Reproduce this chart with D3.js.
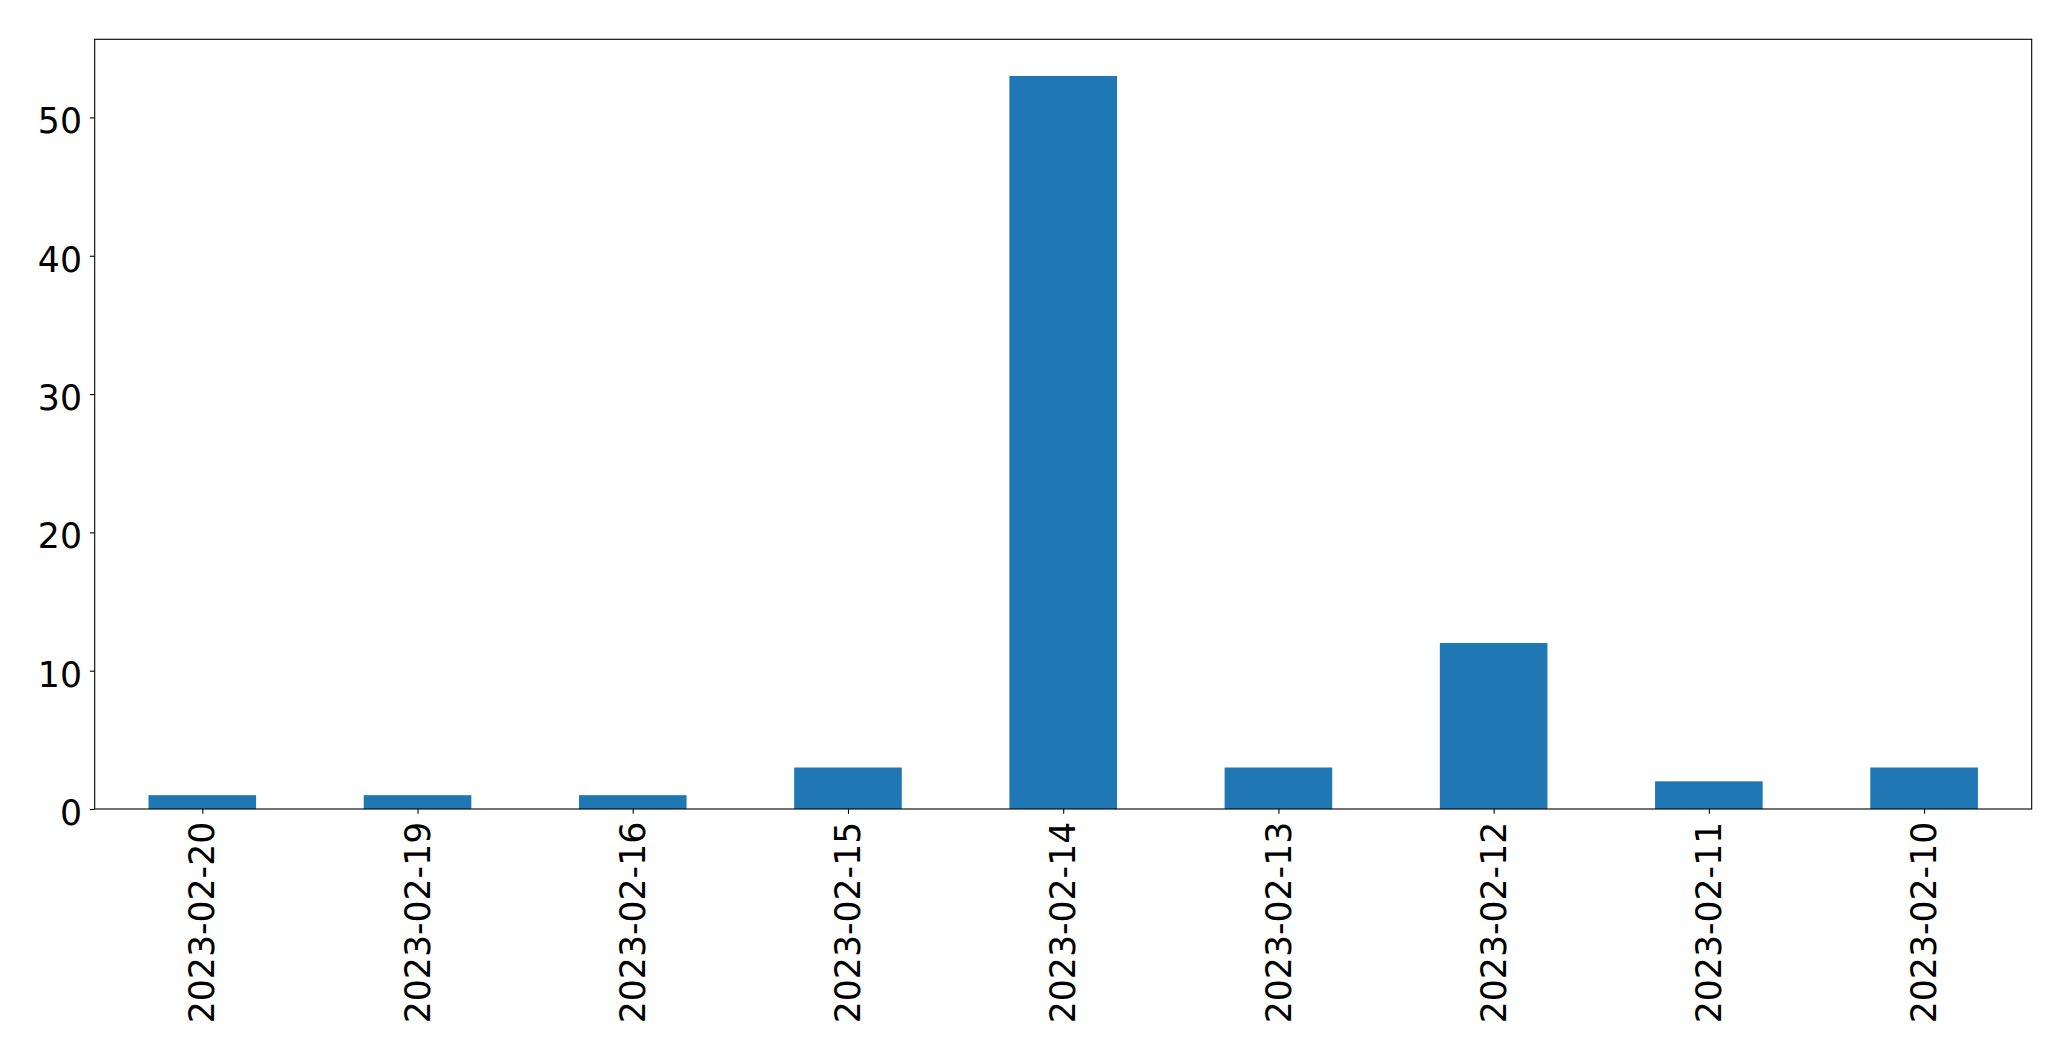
<!DOCTYPE html>
<html>
<head>
<meta charset="utf-8">
<script src="https://cdn.jsdelivr.net/npm/d3@7"></script>
<style>
  html, body { margin: 0; padding: 0; background: #fff; }
  svg { display: block; }
</style>
</head>
<body>
<svg id="chart" width="2071" height="1061"></svg>
<script>
const categories = ["2023-02-20","2023-02-19","2023-02-16","2023-02-15","2023-02-14","2023-02-13","2023-02-12","2023-02-11","2023-02-10"];
const counts = [1, 1, 1, 3, 53, 3, 12, 2, 3];
const yTicks = [0, 10, 20, 30, 40, 50];

const W = 2071, H = 1061;
const margin = { left: 94.7, right: 2071 - 2031.7, top: 39.3, bottom: 1061 - 809 };
const fontSize = 34.7;
const fontFamily = "'DejaVu Sans', sans-serif";
const tickLen = 4.86, pad = 4.86;

const svg = d3.select("#chart");
const x0 = margin.left, x1 = W - margin.right, y0 = margin.top, y1 = H - margin.bottom;

const n = categories.length;
const x = d3.scaleLinear().domain([-0.5, n - 0.5]).range([x0, x1]);
const yMax = d3.max(counts) * 1.05;
const y = d3.scaleLinear().domain([0, yMax]).range([y1, y0]);

// bars
svg.append("g").selectAll("rect").data(counts).join("rect")
  .attr("x", (d, i) => x(i - 0.25))
  .attr("width", (d, i) => x(i + 0.25) - x(i - 0.25))
  .attr("y", d => y(d))
  .attr("height", d => y(0) - y(d))
  .attr("fill", "#1f77b4");

// frame
svg.append("rect")
  .attr("x", x0).attr("y", y0)
  .attr("width", x1 - x0).attr("height", y1 - y0)
  .attr("fill", "none").attr("stroke", "#000").attr("stroke-width", 1.1);

// y axis ticks
const yAxis = d3.axisLeft(y).tickValues(yTicks).tickSize(tickLen).tickPadding(pad).tickFormat(d3.format("d"));
const gy = svg.append("g").attr("transform", `translate(${x0},0)`).call(yAxis);
gy.select(".domain").remove();
gy.selectAll(".tick line").attr("stroke", "#000").attr("stroke-width", 1.1);
gy.selectAll(".tick text")
  .attr("font-family", fontFamily).attr("font-size", fontSize).attr("fill", "#000")
  .attr("dy", null).attr("y", 15.5).attr("x", -(tickLen + pad + 3));

// x axis ticks
const xAxis = d3.axisBottom(x).tickValues(d3.range(n)).tickSize(tickLen).tickPadding(pad).tickFormat(i => categories[i]);
const gx = svg.append("g").attr("transform", `translate(0,${y1})`).call(xAxis);
gx.select(".domain").remove();
gx.selectAll(".tick line").attr("stroke", "#000").attr("stroke-width", 1.1);
gx.selectAll(".tick text")
  .attr("font-family", fontFamily).attr("font-size", fontSize).attr("fill", "#000")
  .attr("dy", null).attr("y", null).attr("x", null)
  .attr("text-anchor", "end")
  .attr("transform", `translate(11.6,${tickLen + pad + 3}) rotate(-90)`);
</script>
</body>
</html>
